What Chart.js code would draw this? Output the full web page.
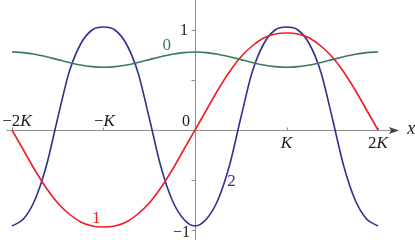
<!DOCTYPE html>
<html>
<head>
<meta charset="utf-8">
<script src="https://cdn.jsdelivr.net/npm/chart.js@4/dist/chart.umd.min.js"></script>
<style>
html, body { margin: 0; padding: 0; background: #fff; }
canvas { display: block; }
</style>
</head>
<body>
<canvas id="chart" width="415" height="240"></canvas>
<script>
// x positions, in units of K
const xK = [-2, -1.875, -1.75, -1.625, -1.5, -1.375, -1.25, -1.125, -1,
            -0.875, -0.75, -0.625, -0.5, -0.375, -0.25, -0.125, 0,
            0.125, 0.25, 0.375, 0.5, 0.625, 0.75, 0.875, 1,
            1.125, 1.25, 1.375, 1.5, 1.625, 1.75, 1.875, 2];

// curve "0" (green)
const curve0 = [0.78, 0.774, 0.758, 0.733, 0.704, 0.675, 0.65, 0.634, 0.628,
                0.634, 0.65, 0.675, 0.704, 0.733, 0.758, 0.774, 0.78,
                0.774, 0.758, 0.733, 0.704, 0.675, 0.65, 0.634, 0.628,
                0.634, 0.65, 0.675, 0.704, 0.733, 0.758, 0.774, 0.78];

// curve "1" (red)
const curve1 = [0, -0.20, -0.40, -0.58, -0.73, -0.84, -0.92, -0.96, -0.97,
                -0.96, -0.92, -0.84, -0.73, -0.58, -0.40, -0.20, 0,
                0.20, 0.40, 0.58, 0.73, 0.84, 0.92, 0.96, 0.97,
                0.96, 0.92, 0.84, 0.73, 0.58, 0.40, 0.20, 0];

// curve "2" (blue)
const curve2 = [-0.96, -0.89, -0.70, -0.36, 0.12, 0.58, 0.86, 1.00, 1.03,
                1.00, 0.86, 0.58, 0.12, -0.36, -0.70, -0.89, -0.96,
                -0.89, -0.70, -0.36, 0.12, 0.58, 0.86, 1.00, 1.03,
                1.00, 0.86, 0.58, 0.12, -0.36, -0.70, -0.89, -0.96];

// tick labels
const xTicks = [-2, -1, 1, 2];
const xTickLabels = [['−2', 'K'], ['−', 'K'], ['', 'K'], ['2', 'K']];
const yTicks = [-1, -0.5, 0.5, 1];
const yTickLabels = ['−1', '', '', '1'];

const COLORS = { c0: '#3b7a5a', c1: '#ee1c25', c2: '#2e3192', axis: '#8f8f8f' };
const SERIF = '"Liberation Serif", "DejaVu Serif", serif';

function toPoints(ys) {
    return xK.map((x, i) => ({ x: x, y: ys[i] }));
}

// draws text where the second part is italic (e.g. "−2" + "K")
function drawMixed(ctx, parts, x, y, size, align) {
    const up = `${size}px ${SERIF}`;
    const it = `italic ${size}px ${SERIF}`;
    ctx.font = up;
    const w1 = ctx.measureText(parts[0]).width;
    ctx.font = it;
    const w2 = ctx.measureText(parts[1]).width;
    let start = x;
    if (align === 'center') start = x - (w1 + w2) / 2;
    if (align === 'right') start = x - (w1 + w2);
    ctx.textAlign = 'left';
    ctx.font = up;
    ctx.fillText(parts[0], start, y);
    ctx.font = it;
    ctx.fillText(parts[1], start + w1, y);
}

const axesPlugin = {
    id: 'axes',
    beforeDatasetsDraw(chart) {
        const { ctx, scales: { x, y } } = chart;
        const x0 = Math.round(x.getPixelForValue(0)) + 0.5;
        const y0 = Math.round(y.getPixelForValue(0)) + 0.5;
        const tip = x.getPixelForValue(2.23);
        ctx.save();
        ctx.strokeStyle = COLORS.axis;
        ctx.lineWidth = 1;
        ctx.beginPath();
        ctx.moveTo(x.getPixelForValue(-2.06), y0);
        ctx.lineTo(tip - 6, y0);
        ctx.moveTo(x0, 0);
        ctx.lineTo(x0, chart.height);
        // x ticks (above axis)
        xTicks.forEach(t => {
            const px = Math.round(x.getPixelForValue(t)) + 0.5;
            ctx.moveTo(px, y0);
            ctx.lineTo(px, y0 - 3);
        });
        // y ticks (left of axis)
        yTicks.forEach(t => {
            const py = Math.round(y.getPixelForValue(t)) + 0.5;
            ctx.moveTo(x0, py);
            ctx.lineTo(x0 - 4, py);
        });
        ctx.stroke();
        // arrow head
        ctx.fillStyle = '#444';
        ctx.beginPath();
        ctx.moveTo(tip, y0);
        ctx.lineTo(tip - 10, y0 - 3.5);
        ctx.lineTo(tip - 8, y0);
        ctx.lineTo(tip - 10, y0 + 3.5);
        ctx.closePath();
        ctx.fill();
        ctx.restore();
    },
    afterDatasetsDraw(chart) {
        const { ctx, scales: { x, y } } = chart;
        const x0 = x.getPixelForValue(0);
        const y0 = y.getPixelForValue(0);
        ctx.save();
        ctx.fillStyle = '#1a1a1a';
        ctx.textBaseline = 'alphabetic';
        // x tick labels: negative ones above the axis, positive ones below
        drawMixed(ctx, xTickLabels[0], x.getPixelForValue(-2) + 5, y0 - 4, 17, 'center');
        drawMixed(ctx, xTickLabels[1], x.getPixelForValue(-1) + 1, y0 - 4, 17, 'center');
        drawMixed(ctx, xTickLabels[2], x.getPixelForValue(1), y0 + 18, 17, 'center');
        drawMixed(ctx, xTickLabels[3], x.getPixelForValue(2), y0 + 18, 17, 'center');
        ctx.font = `16px ${SERIF}`;
        ctx.textAlign = 'right';
        ctx.fillText('0', x0 - 5, y0 - 4);
        // y tick labels
        ctx.font = `16px ${SERIF}`;
        ctx.fillText(yTickLabels[3], x0 - 7, y.getPixelForValue(1) + 5);
        ctx.fillText(yTickLabels[0], x0 - 5, y.getPixelForValue(-1) + 7);
        // axis name
        ctx.font = `italic 18px ${SERIF}`;
        ctx.textAlign = 'left';
        ctx.fillText('x', x.getPixelForValue(2.32), y0 + 4);
        // curve labels
        ctx.font = `17px ${SERIF}`;
        ctx.textAlign = 'center';
        ctx.fillStyle = COLORS.c0;
        ctx.fillText('0', x.getPixelForValue(-0.31), y.getPixelForValue(0.80));
        ctx.fillStyle = COLORS.c1;
        ctx.fillText('1', x.getPixelForValue(-1.08), y.getPixelForValue(-0.93));
        ctx.fillStyle = COLORS.c2;
        ctx.fillText('2', x.getPixelForValue(0.40), y.getPixelForValue(-0.56));
        ctx.restore();
    }
};

function line(data, color) {
    return {
        data: toPoints(data),
        borderColor: color,
        borderWidth: 1.6,
        pointRadius: 0,
        fill: false,
        cubicInterpolationMode: 'monotone',
        clip: false
    };
}

new Chart(document.getElementById('chart'), {
    type: 'line',
    data: {
        datasets: [line(curve0, COLORS.c0), line(curve1, COLORS.c1), line(curve2, COLORS.c2)]
    },
    options: {
        responsive: false,
        animation: false,
        layout: { padding: 0 },
        plugins: { legend: { display: false }, tooltip: { enabled: false } },
        scales: {
            x: { type: 'linear', min: -2.131, max: 2.404, display: false },
            y: { type: 'linear', min: -1.10, max: 1.30, display: false }
        }
    },
    plugins: [axesPlugin]
});
</script>
</body>
</html>
